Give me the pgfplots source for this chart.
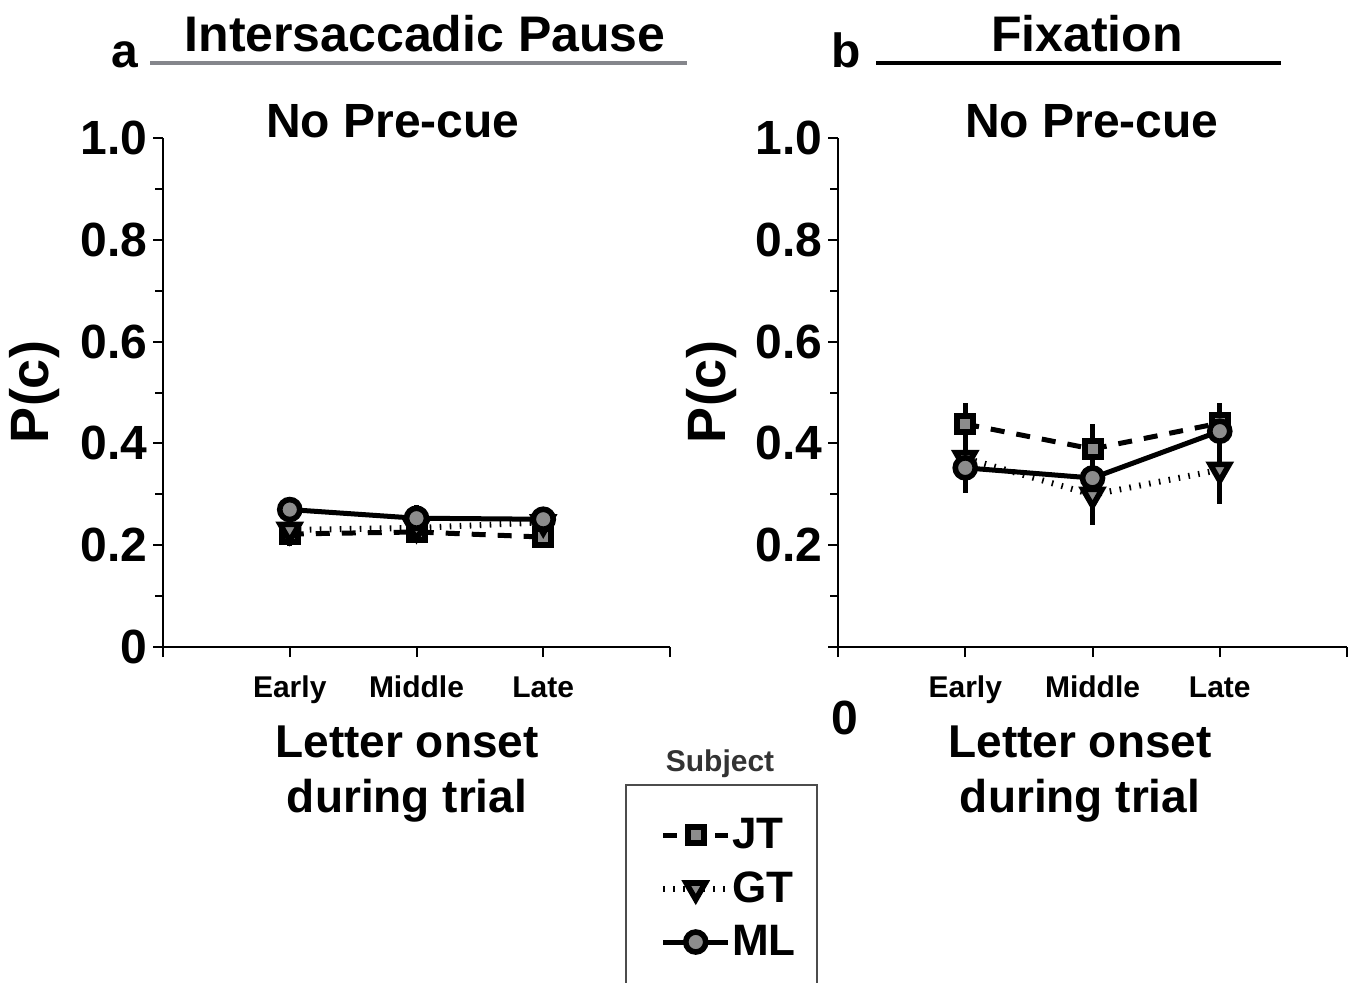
\documentclass[border=0pt]{standalone}
\usepackage{fontspec}
\setmainfont{Liberation Sans}
\usepackage{pgfplots}
\pgfplotsset{compat=1.18}
\definecolor{mk}{HTML}{8C8C8C}
\definecolor{titlegray}{HTML}{85868C}
\pgfplotsset{
 panel/.style={
  scale only axis, height=254.5pt,
  xmin=0,xmax=4,ymin=0,ymax=1,
  axis lines*=left, axis line style={line width=1pt},
  tick align=outside, tick style={black, line width=1pt},
  major tick length=5pt, minor tick length=4pt,
  xtick={0,1,2,3,4}, xticklabels={,Early,Middle,Late,},
  ytick={0,0.2,0.4,0.6,0.8,1}, minor ytick={0.1,0.3,0.5,0.7,0.9},
  xticklabel style={font=\bfseries\fontsize{15}{18}\selectfont, anchor=base, yshift=-20pt},
  yticklabel style={font=\bfseries\fontsize{24}{28}\selectfont, anchor=east, inner sep=0pt, xshift=-2.5pt},
  clip=false,
 },
 jt/.style={black, line width=2.5pt, dash pattern=on 7pt off 6pt, mark=square*, mark size=4pt,
   mark options={solid, fill=mk, draw=black, line width=3pt}},
 gt/.style={black, line width=3pt, dash pattern=on 0.8pt off 4.2pt, mark=triangle*, mark size=5.5pt,
   mark options={solid, rotate=180, fill=mk, draw=black, line width=2.8pt}},
 ml/.style={black, line width=2.5pt, solid, mark=*, mark size=5pt,
   mark options={solid, fill=mk, draw=black, line width=2.8pt}},
 eb/.style={error bars/.cd, y dir=both, y explicit, error mark=none,
   error bar style={solid, black, line width=2.5pt}},
}
\begin{document}
\begin{tikzpicture}
\useasboundingbox (0,0) rectangle (679pt,491pt);
% Panel a
\begin{axis}[panel, width=253.5pt, at={(81.5pt,167.5pt)}, anchor=south west,
  yticklabels={0,0.2,0.4,0.6,0.8,1.0},
  legend image code/.code={\draw[#1, mark repeat=2, mark phase=2] plot coordinates {(0pt,0pt) (16.25pt,0pt) (32.5pt,0pt)};},
  legend style={at={(axis description cs:0.98,-0.4745)}, anchor=west, draw=none, fill=none,
    font=\bfseries\fontsize{22}{26}\selectfont, inner sep=0pt, row sep=6pt, column sep=-1.5pt},
  legend cell align=left]
\addplot[jt, eb] coordinates {(1,0.222) +- (0,0.024) (2,0.226) +- (0,0.020) (3,0.216) +- (0,0.016)};
\addplot[gt, eb] coordinates {(1,0.230) +- (0,0.020) (2,0.234) +- (0,0.020) (3,0.245) +- (0,0.020)};
\addplot[ml, eb] coordinates {(1,0.270) +- (0,0.025) (2,0.253) +- (0,0.026) (3,0.251) +- (0,0.024)};
\legend{JT,GT,ML}
\end{axis}
% Panel b
\begin{axis}[panel, width=254.5pt, at={(419pt,167.5pt)}, anchor=south west,
  yticklabels={,0.2,0.4,0.6,0.8,1.0}]
\addplot[jt, eb] coordinates {(1,0.438) +- (0,0.042) (2,0.389) +- (0,0.050) (3,0.440) +- (0,0.040)};
\addplot[gt, eb] coordinates {(1,0.371) +- (0,0.050) (2,0.299) +- (0,0.060) (3,0.348) +- (0,0.068)};
\addplot[ml, eb] coordinates {(1,0.352) +- (0,0.050) (2,0.332) +- (0,0.040) (3,0.424) +- (0,0.040)};
\end{axis}
% titles
\node[anchor=base, font=\bfseries\fontsize{25}{30}\selectfont] at (212.5pt,465pt) {Intersaccadic Pause};
\draw[titlegray, line width=2pt] (75pt,459.5pt) -- (343.5pt,459.5pt);
\node[anchor=base, font=\bfseries\fontsize{24}{28}\selectfont] at (62.5pt,457pt) {a};
\node[anchor=base, font=\bfseries\fontsize{25}{30}\selectfont] at (543.5pt,465pt) {Fixation};
\draw[black, line width=2pt] (438pt,459.5pt) -- (640.5pt,459.5pt);
\node[anchor=base, font=\bfseries\fontsize{24}{28}\selectfont] at (423pt,457pt) {b};
\node[anchor=base, font=\bfseries\fontsize{24}{28}\selectfont] at (196.5pt,422pt) {No Pre-cue};
\node[anchor=base, font=\bfseries\fontsize{24}{28}\selectfont] at (546pt,422pt) {No Pre-cue};
% axis labels
\node[rotate=90, font=\bfseries\fontsize{27}{30}\selectfont] at (17.5pt,295pt) {P(c)};
\node[rotate=90, font=\bfseries\fontsize{27}{30}\selectfont] at (356pt,295pt) {P(c)};
\node[anchor=base, font=\bfseries\fontsize{23}{27}\selectfont] at (203.5pt,112.5pt) {Letter onset};
\node[anchor=base, font=\bfseries\fontsize{23}{27}\selectfont] at (203.5pt,85pt) {during trial};
\node[anchor=base, font=\bfseries\fontsize{23}{27}\selectfont] at (540pt,112.5pt) {Letter onset};
\node[anchor=base, font=\bfseries\fontsize{23}{27}\selectfont] at (540pt,85pt) {during trial};
\node[font=\bfseries\fontsize{24}{28}\selectfont] at (422.5pt,132pt) {0};
% legend frame
\node[text=black!80, font=\bfseries\fontsize{15}{18}\selectfont] at (360pt,109pt) {Subject};
\draw[black!70, line width=0.75pt] (313pt,-5pt) -- (313pt,98.5pt) -- (408.5pt,98.5pt) -- (408.5pt,-5pt);
\end{tikzpicture}
\end{document}
